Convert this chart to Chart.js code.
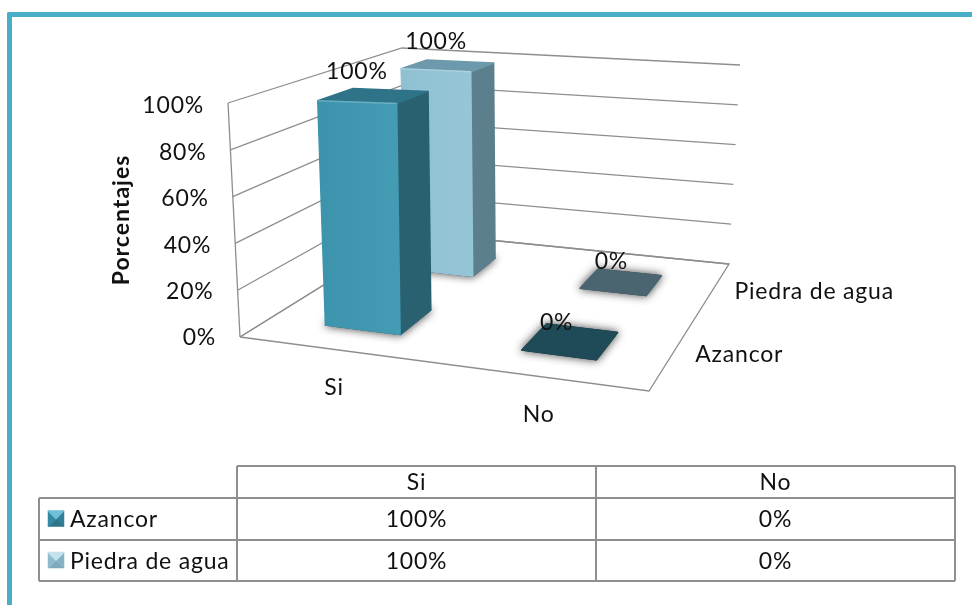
<!DOCTYPE html>
<html>
<head>
<meta charset="utf-8">
<script src="https://cdn.jsdelivr.net/npm/chart.js@4"></script>
<style>
  html, body { margin: 0; background: #fff; }
  #wrap { position: relative; width: 972px; height: 605px; overflow: hidden; }
  #frame { position: absolute; left: 7px; top: 12px; width: 972px; height: 605px;
    border-top: 5px solid #4baec8; border-left: 5px solid #4baec8; border-top-left-radius: 2px; }
  canvas { position: absolute; left: 0; top: 0; }
</style>
</head>
<body>
<div id="wrap">
  <div id="frame"></div>
  <canvas id="chart" width="972" height="605"></canvas>
</div>
<script>
// Data
const categories = ["Si", "No"]
const seriesNames = ["Azancor", "Piedra de agua"]
const azancorValues = [100, 0]
const piedraValues = [100, 0]
const axisTitle = "Porcentajes"

const FONT = "Lato, sans-serif"
const LINE = "#8e8e8e"
const TEXT = "#111"

// Corners of the 3D box on the page
const floorFL = [240, 337], floorFR = [649, 391], floorBL = [409, 232], floorBR = [729, 264]
const topFL = [228, 103], topFR = [661, 116], topBL = [402, 48], topBR = [740, 65]

// Depth slots, colours and value label offsets of each series
const rows = [
  { v0: 0.18, v1: 0.4, hMax: 0.975, front: ["#3c93ac", "#439bb4"], side: "#2a6170", top: "#2f7388", flat: "#1f4a57",
    key: ["#6fc0d6", "#2f7388", "#2f7f97", "#348aa3"], labelDx: [-14, -3], labelDy: [-19, -5] },
  { v0: 0.7, v1: 0.86, hMax: 0.99, front: ["#90c1d3", "#95c5d7"], side: "#5b7f8c", top: "#6c9aac", flat: "#4b6570",
    key: ["#c4e3ee", "#7fa9ba", "#86b3c4", "#8dbccd"], labelDx: [-10, -2], labelDy: [-21, -3] },
]
const uShift = -0.015

function mix(a, b, t) {
  return [a[0] + (b[0] - a[0]) * t, a[1] + (b[1] - a[1]) * t]
}

// u: along categories, v: depth, h: height share of the axis
function project(u, v, h) {
  const low = mix(mix(floorFL, floorFR, u), mix(floorBL, floorBR, u), v)
  const high = mix(mix(topFL, topFR, u), mix(topBL, topBR, u), v)
  return mix(low, high, h)
}

function poly(ctx, pts, fill) {
  ctx.beginPath()
  pts.forEach((p, i) => (i ? ctx.lineTo(p[0], p[1]) : ctx.moveTo(p[0], p[1])))
  ctx.closePath()
  ctx.fillStyle = fill
  ctx.strokeStyle = fill
  ctx.lineWidth = 1.5
  ctx.lineJoin = "round"
  ctx.stroke()
  ctx.fill()
}

function path(ctx, pts) {
  ctx.beginPath()
  pts.forEach((p, i) => (i ? ctx.lineTo(p[0], p[1]) : ctx.moveTo(p[0], p[1])))
  ctx.stroke()
}

function text(ctx, str, x, y, align) {
  ctx.textAlign = align || "center"
  ctx.textBaseline = "middle"
  ctx.fillText(str, x, y)
}

function setFont(ctx, bold) {
  ctx.font = (bold ? "bold " : "") + "23px " + FONT
  ctx.letterSpacing = bold ? "1px" : "0.8px"
}

// Paints the library's bar geometry as a box in the projection
function drawBox(ctx, el, area, row) {
  const uc = (el.x - area.left) / (area.right - area.left) + uShift
  const half = el.width / (area.right - area.left) / 2
  const h = ((el.base - el.y) / (area.bottom - area.top)) * row.hMax
  const u0 = uc - half, u1 = uc + half, v0 = row.v0, v1 = row.v1
  const foot = [project(u0, v0, 0), project(u1, v0, 0), project(u1, v1, 0), project(u0, v1, 0)]

  ctx.save()
  ctx.shadowColor = "rgba(0,0,0,0.7)"
  ctx.shadowBlur = 9
  poly(ctx, foot, h > 0 ? "#777" : row.flat)
  ctx.restore()
  if (h <= 0) {
    poly(ctx, foot, row.flat)
    return
  }

  const a = project(u0, v0, h), b = project(u1, v0, h)
  const grad = ctx.createLinearGradient(a[0], 0, b[0], 0)
  grad.addColorStop(0, row.front[0])
  grad.addColorStop(1, row.front[1])
  poly(ctx, [project(u1, v0, 0), project(u1, v1, 0), project(u1, v1, h), b], row.side)
  poly(ctx, [a, b, project(u1, v1, h), project(u0, v1, h)], row.top)
  poly(ctx, [project(u0, v0, 0), project(u1, v0, 0), b, a], grad)
  // soft highlight on the bevelled front edge
  ctx.strokeStyle = "rgba(255,255,255,0.22)"
  ctx.lineWidth = 1.5
  path(ctx, [a, b])
}

class Bar3DController extends Chart.BarController {
  static id = "bar3d"
  static defaults = {}
  static overrides = Chart.BarController.overrides

  draw() {
    const row = rows[this.index]
    this._cachedMeta.data.forEach((el) => drawBox(this.chart.ctx, el, this.chart.chartArea, row))
  }
}

Chart.register(Bar3DController)

// Walls, floor and axis texts behind the bars
const boxPlugin = {
  id: "box",
  beforeDatasetsDraw(chart) {
    const ctx = chart.ctx
    const y = chart.scales.y
    const x = chart.scales.x
    ctx.save()
    ctx.strokeStyle = LINE
    ctx.lineWidth = 1.3
    y.ticks.forEach((tick) => {
      const h = (y.bottom - y.getPixelForValue(tick.value)) / (y.bottom - y.top)
      path(ctx, [project(0, 0, h), project(0, 1, h), project(1, 1, h)])
    })
    path(ctx, [project(0, 0, 0), project(0, 0, 1)])
    path(ctx, [project(0, 0, 0), project(1, 0, 0), project(1, 1, 0), project(0, 1, 0), project(0, 0, 0)])

    ctx.fillStyle = TEXT
    setFont(ctx)
    y.ticks.forEach((tick) => {
      const py = y.getPixelForValue(tick.value)
      const h = (y.bottom - py) / (y.bottom - y.top)
      text(ctx, tick.label, project(0, 0, h)[0] - 24, py, "right")
    })
    categories.forEach((name, i) => {
      const u = (x.getPixelForValue(i) - x.left) / (x.right - x.left) + uShift
      const p = project(u, 0, 0)
      text(ctx, name, p[0] - 2, p[1] + 38)
    })
    seriesNames.forEach((name, i) => {
      const p = project(1, (rows[i].v0 + rows[i].v1) / 2, 0)
      text(ctx, name, p[0] + 23, p[1], "left")
    })

    setFont(ctx, true)
    ctx.translate(122, 220)
    ctx.rotate(-Math.PI / 2)
    text(ctx, axisTitle, 0, 0)
    ctx.restore()
  },
  afterDatasetsDraw(chart) {
    const ctx = chart.ctx
    const area = chart.chartArea
    ctx.save()
    ctx.fillStyle = TEXT
    setFont(ctx)
    chart.data.datasets.forEach((ds, d) => {
      const row = rows[d]
      chart.getDatasetMeta(d).data.forEach((el, i) => {
        const u = (el.x - area.left) / (area.right - area.left) + uShift
        const share = (el.base - el.y) / (area.bottom - area.top)
        const p = project(u, (row.v0 + row.v1) / 2, share * row.hMax)
        const dx = row.labelDx[0] + row.labelDx[1] * share
        const dy = row.labelDy[0] + row.labelDy[1] * share
        text(ctx, ds.data[i] + "%", p[0] + dx, p[1] + dy)
      })
    })
    ctx.restore()
  },
}

// Data table under the plot
const tableX = [39, 237, 596, 955]
const tableY = [466, 498, 540, 581]
const tablePlugin = {
  id: "dataTable",
  afterDraw(chart) {
    const ctx = chart.ctx
    ctx.save()
    ctx.strokeStyle = "#8f8f8f"
    ctx.lineWidth = 2
    path(ctx, [[tableX[1], tableY[0]], [tableX[3], tableY[0]]])
    tableY.slice(1).forEach((ty) => path(ctx, [[tableX[0], ty], [tableX[3], ty]]))
    path(ctx, [[tableX[0], tableY[1]], [tableX[0], tableY[3]]])
    tableX.slice(1).forEach((tx) => path(ctx, [[tx, tableY[0]], [tx, tableY[3]]]))

    ctx.fillStyle = TEXT
    setFont(ctx)
    categories.forEach((name, c) => {
      const cx = (tableX[c + 1] + tableX[c + 2]) / 2
      text(ctx, name, cx, (tableY[0] + tableY[1]) / 2 + 1)
      chart.data.datasets.forEach((ds, d) => {
        text(ctx, ds.data[c] + "%", cx, (tableY[d + 1] + tableY[d + 2]) / 2 + 1)
      })
    })
    seriesNames.forEach((name, d) => {
      const cy = (tableY[d + 1] + tableY[d + 2]) / 2 - 0.5
      ctx.fillStyle = TEXT
      text(ctx, name, 70, cy + 1.5, "left")
      // legend key with bevelled faces
      const l = 48.5, r = 63.5, t = cy - 7.5, b = cy + 7.5, mx = 56, my = cy
      const k = rows[d].key
      poly(ctx, [[l, b], [r, b], [mx, my]], k[1])
      poly(ctx, [[l, t], [l, b], [mx, my]], k[3])
      poly(ctx, [[r, t], [r, b], [mx, my]], k[2])
      poly(ctx, [[l, t], [r, t], [mx, my]], k[0])
    })
    ctx.restore()
  },
}

new Chart(document.getElementById("chart"), {
  type: "bar3d",
  data: {
    labels: categories,
    datasets: [
      { label: seriesNames[0], data: azancorValues, grouped: false, barPercentage: 0.38, categoryPercentage: 1, clip: false },
      { label: seriesNames[1], data: piedraValues, grouped: false, barPercentage: 0.38, categoryPercentage: 1, clip: false },
    ],
  },
  options: {
    responsive: false,
    animation: false,
    layout: { padding: { left: 240, right: 323, top: 106, bottom: 267 } },
    plugins: { legend: { display: false }, tooltip: { enabled: false } },
    scales: {
      x: { type: "category", display: false },
      y: {
        type: "linear",
        display: false,
        min: 0,
        max: 100,
        ticks: { stepSize: 20, callback: (value) => value + "%" },
      },
    },
  },
  plugins: [boxPlugin, tablePlugin],
})
</script>
</body>
</html>
